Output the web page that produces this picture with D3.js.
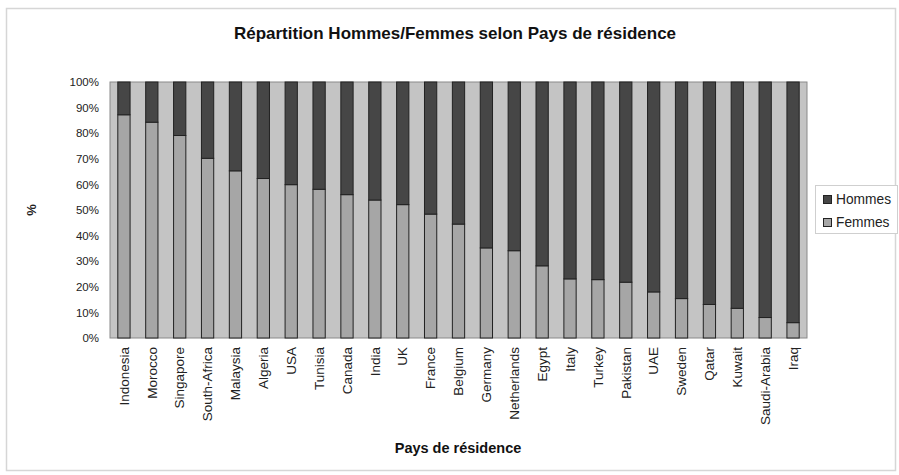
<!DOCTYPE html>
<html><head><meta charset="utf-8">
<script src="https://cdn.jsdelivr.net/npm/d3@7"></script>
<style>body{margin:0;background:#fff;}svg{display:block;font-family:"Liberation Sans",Arial,sans-serif;}</style>
</head><body><svg id="c" width="899" height="475"></svg>
<script>
const categories = ["Indonesia","Morocco","Singapore","South-Africa","Malaysia","Algeria","USA","Tunisia","Canada","India","UK","France","Belgium","Germany","Netherlands","Egypt","Italy","Turkey","Pakistan","UAE","Sweden","Qatar","Kuwait","Saudi-Arabia","Iraq"];
const femmes = [87.2,84.3,79.1,70.2,65.3,62.3,59.9,58.1,56.0,53.9,52.1,48.4,44.5,35.2,34.1,28.2,23.1,22.8,21.8,18.0,15.4,13.1,11.6,8.0,6.0];
const hommes = femmes.map(v => 100 - v);
const seriesNames = ["Hommes","Femmes"];
const yTicks = [0,10,20,30,40,50,60,70,80,90,100];

const svg = d3.select("#c");
const W = 899, H = 475;
const m = {l:110, r:92, t:82, b:137};
const pw = W - m.l - m.r, ph = H - m.t - m.b;

// outer border
svg.append("rect").attr("x",6.5).attr("y",8.5).attr("width",W-10).attr("height",H-13)
  .attr("fill","#fff").attr("stroke","#d6d6d6").attr("stroke-width",1.5);

svg.append("text").attr("x",455).attr("y",39).attr("text-anchor","middle")
  .attr("font-size",17).attr("font-weight","bold").attr("fill","#111")
  .text("Répartition Hommes/Femmes selon Pays de résidence");

const x = d3.scaleBand().domain(categories).range([m.l, m.l+pw]).paddingInner(0.56).paddingOuter(0.28);
const y = d3.scaleLinear().domain([0,100]).range([m.t+ph, m.t]);

svg.append("rect").attr("x",m.l).attr("y",m.t).attr("width",pw).attr("height",ph)
  .attr("fill","#c4c4c4").attr("stroke","#8a8a8a");

const data = categories.map((c,i)=>({c, f:femmes[i], h:hommes[i]}));
const colors = {Hommes:"#464646", Femmes:"#a6a6a6"};

const g = svg.append("g");
g.selectAll("rect.f").data(data).join("rect").attr("class","f")
  .attr("x",d=>x(d.c)).attr("width",x.bandwidth())
  .attr("y",d=>y(d.f)).attr("height",d=>y(0)-y(d.f))
  .attr("fill",colors.Femmes).attr("stroke","#222").attr("stroke-width",1);
g.selectAll("rect.h").data(data).join("rect").attr("class","h")
  .attr("x",d=>x(d.c)).attr("width",x.bandwidth())
  .attr("y",d=>y(100)).attr("height",d=>y(d.f)-y(100))
  .attr("fill",colors.Hommes).attr("stroke","#222").attr("stroke-width",1);

const ya = d3.axisLeft(y).tickValues(yTicks).tickFormat(d=>d+"%").tickSize(0).tickPadding(11);
svg.append("g").attr("transform",`translate(${m.l},0)`).call(ya)
  .call(s=>s.select(".domain").remove())
  .selectAll("text").attr("font-size",11.5).attr("fill","#222").attr("font-family","Liberation Sans, Arial, sans-serif");

const xa = d3.axisBottom(x).tickSize(0).tickPadding(0);
const xg = svg.append("g").attr("transform",`translate(0,${m.t+ph})`).call(xa);
xg.select(".domain").remove();
xg.selectAll("text").attr("font-size",13.5).attr("fill","#222").attr("font-family","Liberation Sans, Arial, sans-serif")
  .attr("transform","rotate(-90)").attr("text-anchor","end").attr("dx","-9").attr("dy","0.35em").attr("x",0).attr("y",0);

svg.append("text").attr("x",458).attr("y",453).attr("text-anchor","middle")
  .attr("font-size",14.5).attr("font-weight","bold").attr("fill","#111").text("Pays de résidence");

svg.append("text").attr("transform","translate(36,210) rotate(-90)").attr("text-anchor","middle")
  .attr("font-size",13).attr("font-weight","bold").attr("fill","#222").text("%");

// legend
const lg = svg.append("g");
lg.append("rect").attr("x",815.5).attr("y",185.5).attr("width",82).attr("height",48)
  .attr("fill","#fff").attr("stroke","#cfcfcf");
seriesNames.forEach((n,i)=>{
  lg.append("rect").attr("x",823.5).attr("y",195.5+i*23).attr("width",8).attr("height",8)
    .attr("fill",colors[n]).attr("stroke","#222");
  lg.append("text").attr("x",836).attr("y",204+i*23).attr("font-size",13.75).attr("fill","#222").text(n);
});
</script></body></html>
